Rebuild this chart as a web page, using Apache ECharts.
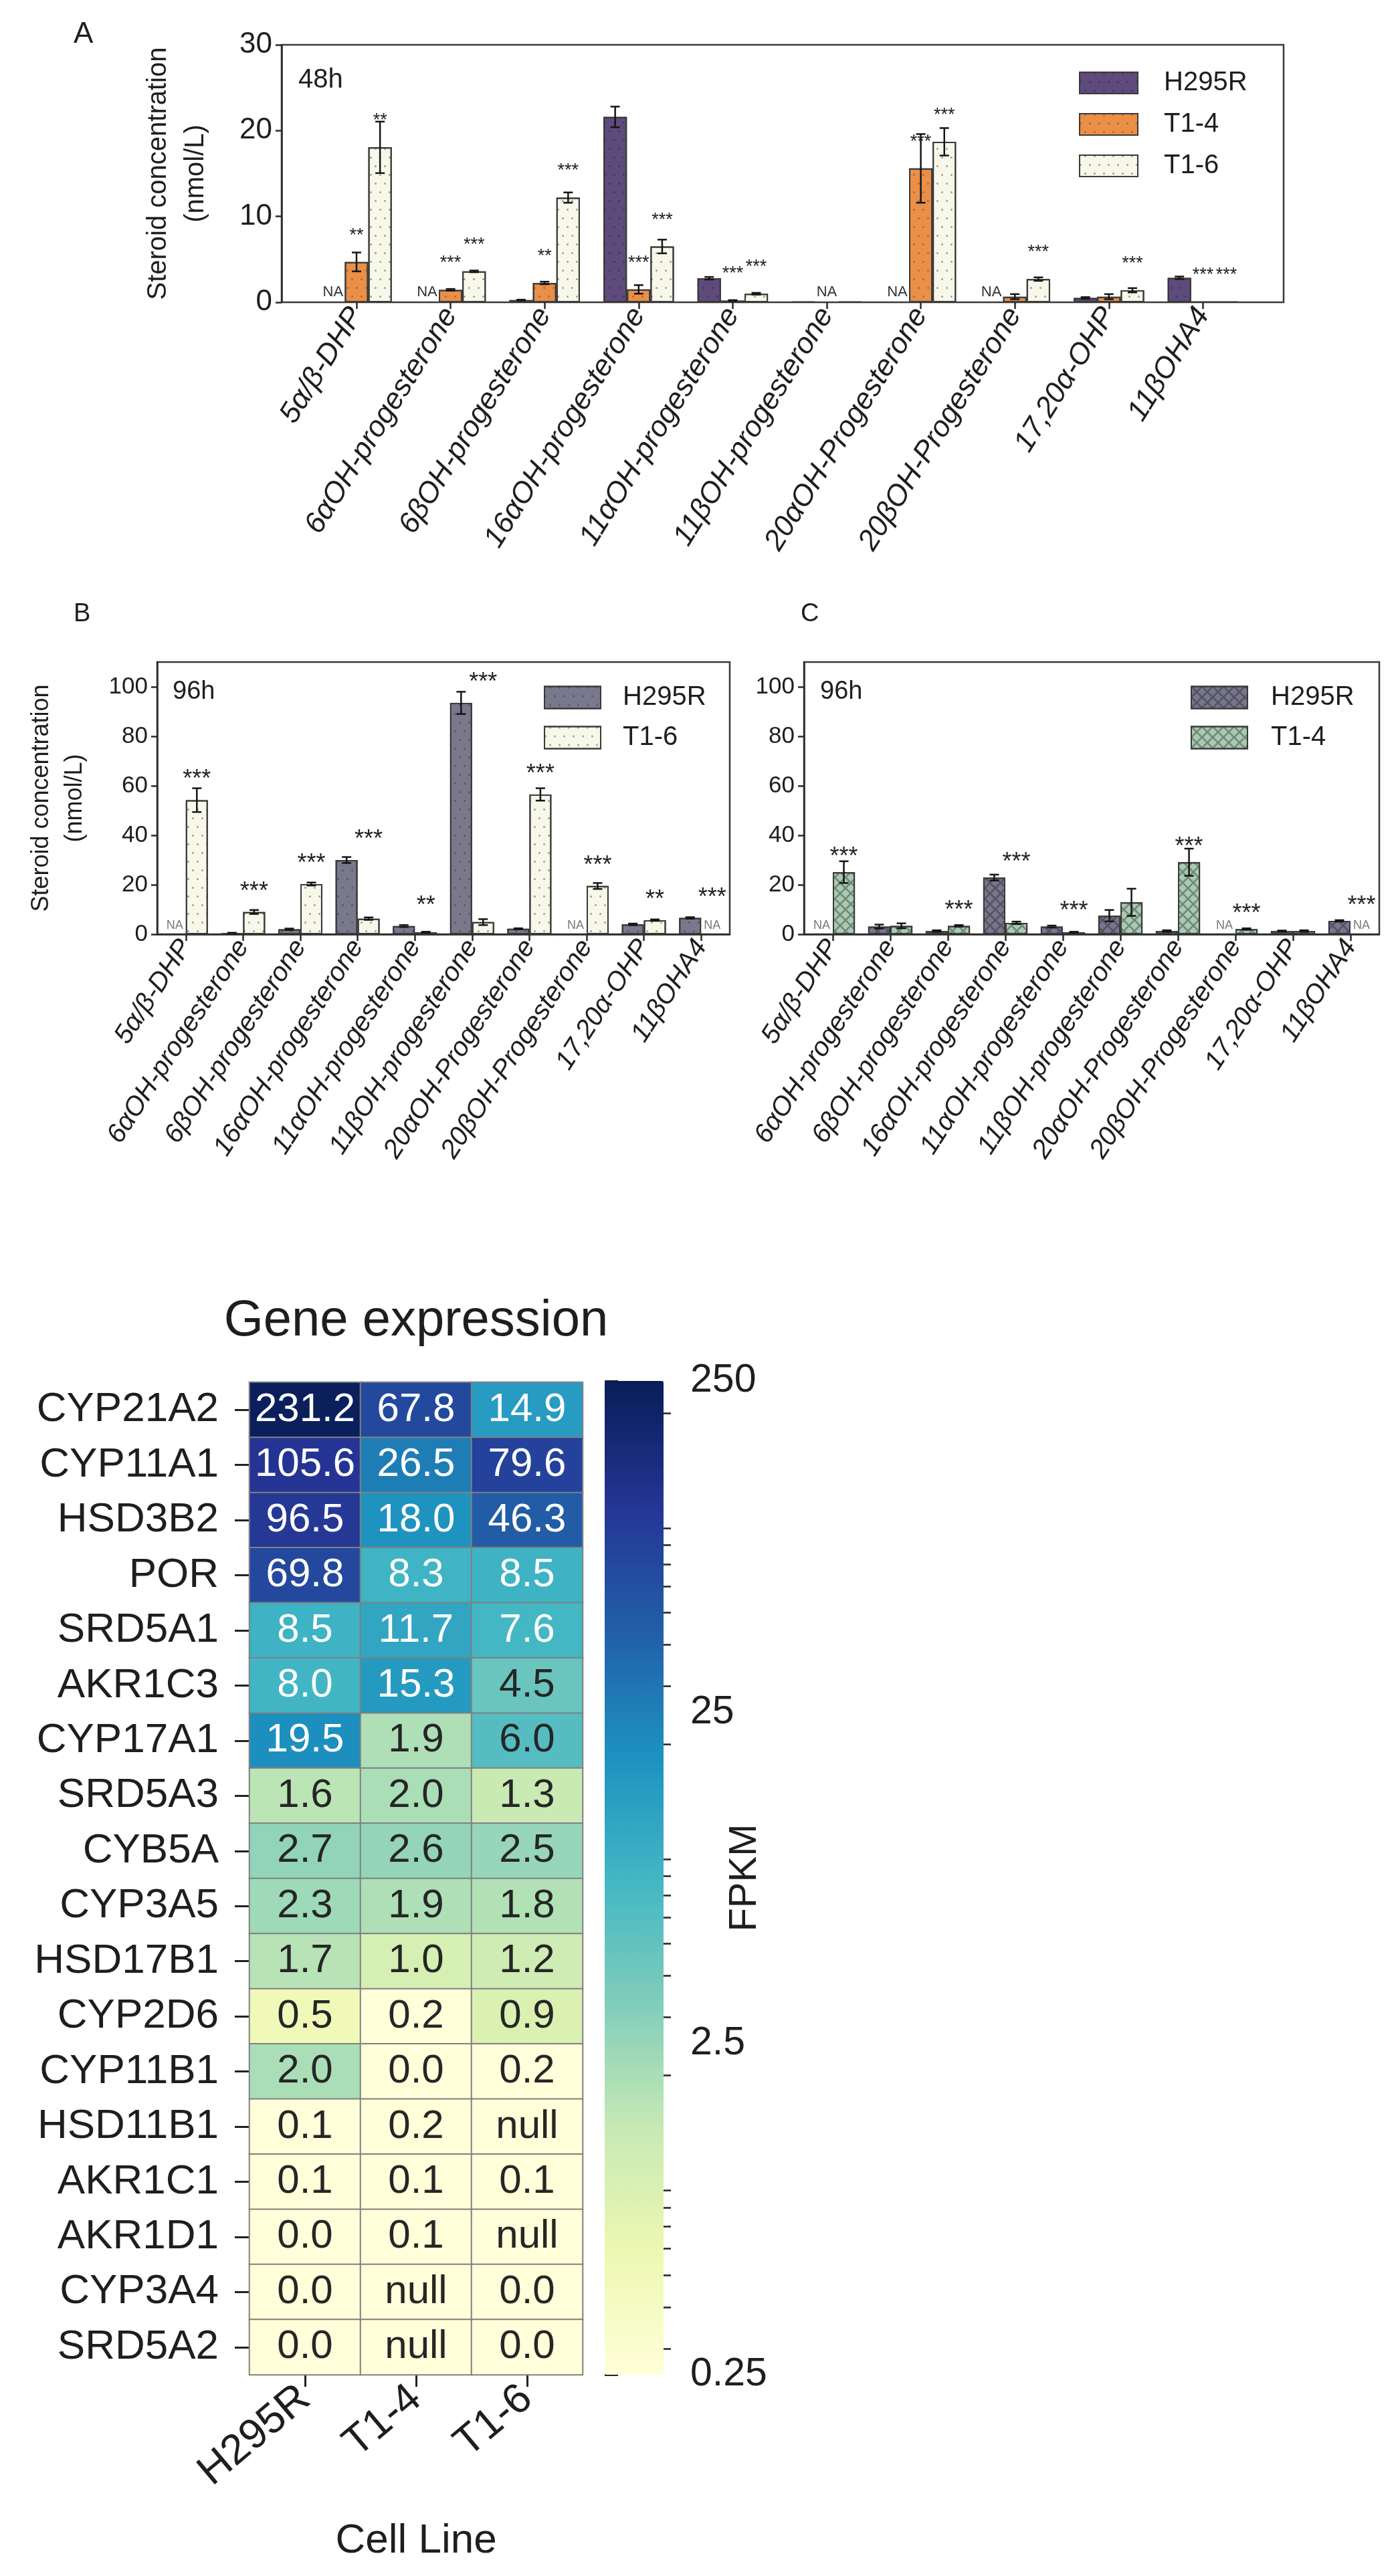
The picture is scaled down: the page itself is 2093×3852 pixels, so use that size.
<!DOCTYPE html>
<html>
<head>
<meta charset="utf-8">
<script src="https://cdn.jsdelivr.net/npm/echarts@6/dist/echarts.min.js"></script>
<style>html,body{margin:0;padding:0;background:#fff}#chart{width:2093px;height:3852px}</style>
</head>
<body>
<div id="chart"></div>
<script>
// ---------------- DATA ----------------
const steroids = ['5α/β-DHP','6αOH-progesterone','6βOH-progesterone','16αOH-progesterone','11αOH-progesterone','11βOH-progesterone','20αOH-Progesterone','20βOH-Progesterone','17,20α-OHP','11βOHA4'];

// Panel A – 48h (nmol/L), null = NA
const a_H295R    = [null, null, 0.25, 21.6, 2.8, 0.05, null, null, 0.5, 2.85];
const a_H295R_sd = [null, null, 0.05, 1.2, 0.15, 0, null, null, 0.1, 0.15];
const a_T14      = [4.7, 1.45, 2.25, 1.5, 0.2, null, 15.6, 0.65, 0.65, 0.05];
const a_T14_sd   = [1.1, 0.1, 0.15, 0.5, 0.05, null, 4.0, 0.3, 0.3, 0];
const a_T16      = [18.05, 3.6, 12.2, 6.5, 1.0, 0.05, 18.7, 2.7, 1.4, 0.05];
const a_T16_sd   = [3.0, 0.1, 0.6, 0.8, 0.1, 0, 1.6, 0.2, 0.25, 0];
const a_T14_sig  = ['**','***','**','***','***','','***','','','***'];
const a_T16_sig  = ['**','***','***','***','***','','***','***','***','***'];
const a_yTicks   = [0, 10, 20, 30];

// Panel B – 96h H295R vs T1-6
const b_H295R    = [null, 0.5, 2.0, 30.0, 3.3, 93.5, 2.2, null, 4.0, 6.6];
const b_H295R_sd = [null, 0.1, 0.3, 1.2, 0.4, 4.5, 0.2, null, 0.3, 0.3];
const b_T16      = [54.2, 9.0, 20.3, 6.3, 0.8, 4.9, 56.5, 19.5, 5.7, null];
const b_T16_sd   = [4.8, 0.8, 0.6, 0.5, 0.2, 1.2, 2.5, 1.2, 0.3, null];
const b_sig      = ['***','***','***','***','**','***','***','***','**','***'];

// Panel C – 96h H295R vs T1-4
const c_H295R    = [null, 3.1, 1.3, 22.9, 3.1, 7.5, 1.3, null, 1.3, 5.4];
const c_H295R_sd = [null, 0.8, 0.3, 1.2, 0.4, 2.3, 0.3, null, 0.2, 0.3];
const c_T14      = [25.1, 3.4, 3.4, 4.6, 0.8, 12.9, 29.1, 2.1, 1.3, null];
const c_T14_sd   = [4.4, 1.0, 0.3, 0.5, 0.2, 5.5, 5.5, 0.3, 0.3, null];
const c_sig      = ['***','','***','***','***','','***','***','','***'];
const bc_yTicks  = [0, 20, 40, 60, 80, 100];

// Heatmap – gene expression (FPKM), null = "null"
const genes = ['CYP21A2','CYP11A1','HSD3B2','POR','SRD5A1','AKR1C3','CYP17A1','SRD5A3','CYB5A','CYP3A5','HSD17B1','CYP2D6','CYP11B1','HSD11B1','AKR1C1','AKR1D1','CYP3A4','SRD5A2'];
const cellLines = ['H295R','T1-4','T1-6'];
const fpkm_H295R = [231.2,105.6,96.5,69.8,8.5,8.0,19.5,1.6,2.7,2.3,1.7,0.5,2.0,0.1,0.1,0.0,0.0,0.0];
const fpkm_T14   = [67.8,26.5,18.0,8.3,11.7,15.3,1.9,2.0,2.6,1.9,1.0,0.2,0.0,0.2,0.1,0.1,null,null];
const fpkm_T16   = [14.9,79.6,46.3,8.5,7.6,4.5,6.0,1.3,2.5,1.8,1.2,0.9,0.2,null,0.1,null,0.0,0.0];

// Colorbar ticks (log scale)
const cbMajor = [0.25, 2.5, 25, 250];
const cbMajorLabels = ['0.25', '2.5', '25', '250'];
const cbMinor = [0.3,0.4,0.5,0.6,0.7,0.8,0.9,2,3,4,5,6,7,8,9,20,30,40,50,60,70,80,90,200];

// ---------------- STYLE ----------------
const FONT = '"Liberation Sans", Arial, Helvetica, sans-serif';
const TXT = '#1e1e1e';
const YlGnBu = ['#ffffd9','#edf8b1','#c7e9b4','#7fcdbb','#41b6c4','#1d91c0','#225ea8','#253494','#081d58'];
const lg = Math.log10;

const dotDecal = c => ({symbol:'circle', symbolSize:1, color:c, dashArrayX:[[3,11],[0,7,3,4]], dashArrayY:[3,10]});
const crossDecal = c => ({symbol:'path://M0 0L1.4 0L12 10.6L12 12L10.6 12L0 1.4ZM10.6 0L12 0L12 1.4L1.4 12L0 12L0 10.6Z',
  symbolSize:1, symbolKeepAspect:false, color:c, dashArrayX:[16,0], dashArrayY:[16,0]});

// ---------------- helpers ----------------
function slotX(api, i, slot, n, frac) {
  const band = api.size([1, 0])[0];
  return api.coord([i, 0])[0] + (slot - (n - 1) / 2) * band * frac;
}
function errorSeries(xi, yi, vals, sds, slot, n, frac) {
  const data = [];
  vals.forEach((v, i) => { if (v != null && sds[i] != null && sds[i] > 0) data.push([i, v, sds[i]]); });
  return {type:'custom', xAxisIndex:xi, yAxisIndex:yi, z:6, silent:true, data, encode:{x:0, y:1},
    renderItem(params, api) {
      const i = api.value(0), v = api.value(1), e = api.value(2);
      const x = slotX(api, i, slot, n, frac);
      const yt = api.coord([i, v + e])[1], yb = api.coord([i, Math.max(0, v - e)])[1];
      const cw = 7, st = {stroke:'#151515', lineWidth:2.5};
      return {type:'group', children:[
        {type:'line', shape:{x1:x, y1:yt, x2:x, y2:yb}, style:st},
        {type:'line', shape:{x1:x-cw, y1:yt, x2:x+cw, y2:yt}, style:st},
        {type:'line', shape:{x1:x-cw, y1:yb, x2:x+cw, y2:yb}, style:st}
      ]};
    }};
}
function starSeries(xi, yi, anchors, sigs, slot, n, frac, fs, dist) {
  const data = [];
  anchors.forEach((a, i) => { if (a != null && sigs[i]) data.push([i, a]); });
  return {type:'custom', xAxisIndex:xi, yAxisIndex:yi, z:7, silent:true, data, encode:{x:0, y:1},
    renderItem(params, api) {
      const i = api.value(0);
      const x = slotX(api, i, slot, n, frac);
      const y = api.coord([i, api.value(1)])[1] - dist;
      return {type:'text', x, y, style:{text:sigs[i], fontSize:fs, fontFamily:FONT, fill:'#222', align:'center', verticalAlign:'bottom'}};
    }};
}
function naSeries(xi, yi, vals, slot, n, frac, fs, color) {
  const data = [];
  vals.forEach((v, i) => { if (v == null) data.push([i, 0]); });
  return {type:'custom', xAxisIndex:xi, yAxisIndex:yi, z:7, silent:true, data, encode:{x:0, y:1},
    renderItem(params, api) {
      const i = api.value(0);
      const x = slotX(api, i, slot, n, frac);
      const y = api.coord([i, 0])[1] - 4;
      return {type:'text', x, y, style:{text:'NA', fontSize:fs, fontFamily:FONT, fill:color, align:'center', verticalAlign:'bottom'}};
    }};
}
const groupMax = (p, q) => p.map((v, i) => {
  const xs = [v, q[i]].filter(t => t != null); return xs.length ? Math.max(...xs) : null; });

// ---------------- layout ----------------
const A = {left:421, top:67, width:1498, height:385};
const A_band = 140.6;
const A_inner = {left:533 - A_band/2, top:67, width:A_band*10, height:385};
const Bg = {left:235, top:990, width:856, height:407};
const Cg = {left:1202, top:990, width:860, height:407};
const Hg = {left:373, top:2067, width:498, height:1484};
const CBg = {left:904, top:2065, width:88, height:1486};

const axisLineStyle = {color:'#2a2a2a', width:2.5};
const catAxis = (gi, fs, rot) => ({gridIndex:gi, type:'category', data:steroids, boundaryGap:true,
  axisLine:{show:true, lineStyle:axisLineStyle}, axisTick:{show:true, alignWithLabel:true, length:10, lineStyle:axisLineStyle},
  axisLabel:{interval:0, rotate:rot, fontSize:fs, fontStyle:'italic', fontFamily:FONT, color:TXT, margin:12},
  splitLine:{show:false}});
const valAxis = (gi, max, ticks, fs, extra) => Object.assign({gridIndex:gi, type:'value', min:0, max,
  axisLine:{show:true, lineStyle:axisLineStyle}, axisTick:{show:true, length:9, lineStyle:axisLineStyle, customValues:ticks},
  axisLabel:{fontSize:fs, fontFamily:FONT, color:TXT, margin:14, customValues:ticks}, splitLine:{show:false}}, extra || {});

const fpkmCols = [fpkm_H295R, fpkm_T14, fpkm_T16];
const heatData = [];
fpkmCols.forEach((col, x) => col.forEach((v, y) => {
  const cv = lg(Math.max(v == null ? cbMajor[0] : v, cbMajor[0]));
  heatData.push({value:[x, y, cv], label:{color:(v != null && v > 7) ? '#ffffff' : '#262626'}});
}));

const barBase = {type:'bar', barGap:'0%'};
const series = [
  // Panel A bars
  Object.assign({}, barBase, {name:'a|H295R', xAxisIndex:1, yAxisIndex:1, data:a_H295R, barCategoryGap:'25%',
    itemStyle:{color:'#5e4b7c', borderColor:'#3a3a3a', borderWidth:2, decal:dotDecal('rgba(0,0,0,0.28)')}}),
  Object.assign({}, barBase, {name:'a|T1-4', xAxisIndex:1, yAxisIndex:1, data:a_T14, barCategoryGap:'25%',
    itemStyle:{color:'#e98f47', borderColor:'#3a3a3a', borderWidth:2, decal:dotDecal('rgba(80,35,0,0.35)')}}),
  Object.assign({}, barBase, {name:'a|T1-6', xAxisIndex:1, yAxisIndex:1, data:a_T16, barCategoryGap:'25%',
    itemStyle:{color:'#f8f8ea', borderColor:'#3a3a3a', borderWidth:2, decal:dotDecal('rgba(70,70,50,0.5)')}}),
  // Panel B bars
  Object.assign({}, barBase, {name:'b|H295R', xAxisIndex:2, yAxisIndex:2, data:b_H295R, barCategoryGap:'23%',
    itemStyle:{color:'#7a788d', borderColor:'#3a3a3a', borderWidth:2, decal:dotDecal('rgba(0,0,0,0.28)')}}),
  Object.assign({}, barBase, {name:'b|T1-6', xAxisIndex:2, yAxisIndex:2, data:b_T16, barCategoryGap:'23%',
    itemStyle:{color:'#f8f8ea', borderColor:'#3a3a3a', borderWidth:2, decal:dotDecal('rgba(70,70,50,0.5)')}}),
  // Panel C bars
  Object.assign({}, barBase, {name:'c|H295R', xAxisIndex:3, yAxisIndex:3, data:c_H295R, barCategoryGap:'23%',
    itemStyle:{color:'#78768b', borderColor:'#3a3a3a', borderWidth:2, decal:crossDecal('rgba(40,40,50,0.45)')}}),
  Object.assign({}, barBase, {name:'c|T1-4', xAxisIndex:3, yAxisIndex:3, data:c_T14, barCategoryGap:'23%',
    itemStyle:{color:'#aac9b2', borderColor:'#3a3a3a', borderWidth:2, decal:crossDecal('rgba(40,60,45,0.45)')}}),

  // error bars
  errorSeries(1, 1, a_H295R, a_H295R_sd, 0, 3, 0.25),
  errorSeries(1, 1, a_T14, a_T14_sd, 1, 3, 0.25),
  errorSeries(1, 1, a_T16, a_T16_sd, 2, 3, 0.25),
  errorSeries(2, 2, b_H295R, b_H295R_sd, 0, 2, 0.385),
  errorSeries(2, 2, b_T16, b_T16_sd, 1, 2, 0.385),
  errorSeries(3, 3, c_H295R, c_H295R_sd, 0, 2, 0.385),
  errorSeries(3, 3, c_T14, c_T14_sd, 1, 2, 0.385),

  // significance stars
  starSeries(1, 1, a_T14, a_T14_sig, 1, 3, 0.25, 27, 26),
  starSeries(1, 1, a_T16, a_T16_sig, 2, 3, 0.25, 27, 26),
  starSeries(2, 2, groupMax(b_H295R, b_T16), b_sig, 1, 2, 0.385, 36, 12),
  starSeries(3, 3, groupMax(c_H295R, c_T14), c_sig, 1, 2, 0.385, 36, 4),

  // NA labels
  naSeries(1, 1, a_H295R, 0, 3, 0.25, 22, '#333'),
  naSeries(1, 1, a_T14, 1, 3, 0.25, 22, '#333'),
  naSeries(2, 2, b_H295R, 0, 2, 0.385, 18, '#777'),
  naSeries(2, 2, b_T16, 1, 2, 0.385, 18, '#777'),
  naSeries(3, 3, c_H295R, 0, 2, 0.385, 18, '#777'),
  naSeries(3, 3, c_T14, 1, 2, 0.385, 18, '#777'),

  // heatmap
  {type:'heatmap', name:'expr', xAxisIndex:4, yAxisIndex:4, data:heatData,
    itemStyle:{borderColor:'#808080', borderWidth:2},
    label:{show:true, fontSize:60, fontFamily:FONT,
      formatter:p => { const v = fpkmCols[p.value[0]][p.value[1]]; return v == null ? 'null' : v.toFixed(1); }},
    emphasis:{disabled:true}}
];
const heatIndex = series.length - 1;

const legendBase = {orient:'vertical', selectedMode:false, padding:0, icon:'rect',
  formatter:n => n.split('|')[1]};

const option = {
  backgroundColor:'#ffffff',
  animation:false,
  textStyle:{fontFamily:FONT},
  grid:[
    Object.assign({show:true, borderColor:'#3a3a3a', borderWidth:2.5, backgroundColor:'transparent', containLabel:false}, A),
    Object.assign({show:false, containLabel:false}, A_inner),
    Object.assign({show:true, borderColor:'#3a3a3a', borderWidth:2.5, backgroundColor:'transparent', containLabel:false}, Bg),
    Object.assign({show:true, borderColor:'#3a3a3a', borderWidth:2.5, backgroundColor:'transparent', containLabel:false}, Cg),
    Object.assign({show:false, containLabel:false}, Hg),
    Object.assign({show:false, containLabel:false}, CBg)
  ],
  xAxis:[
    {gridIndex:0, type:'value', min:0, max:1, show:false},
    Object.assign(catAxis(1, 44, 58), {axisLine:{show:false}}),
    catAxis(2, 40, 57),
    catAxis(3, 40, 57),
    {gridIndex:4, type:'category', data:cellLines, position:'bottom',
      axisLine:{show:false}, axisTick:{show:true, alignWithLabel:true, length:18, lineStyle:{color:'#222', width:3}},
      axisLabel:{rotate:40, fontSize:63, fontFamily:FONT, color:TXT, margin:28},
      name:'Cell Line', nameLocation:'middle', nameGap:218, nameTextStyle:{fontSize:62, fontFamily:FONT, color:TXT}},
    {gridIndex:5, type:'value', min:0, max:1, show:false}
  ],
  yAxis:[
    valAxis(0, 30, a_yTicks, 44, {name:'Steroid concentration\n(nmol/L)', nameLocation:'middle', nameRotate:90, nameGap:100,
      nameTextStyle:{fontSize:40, lineHeight:56, fontFamily:FONT, color:TXT}}),
    {gridIndex:1, type:'value', min:0, max:30, show:false},
    valAxis(2, 110, bc_yTicks, 35, {name:'Steroid concentration\n(nmol/L)', nameLocation:'middle', nameRotate:90, nameGap:98,
      nameTextStyle:{fontSize:36, lineHeight:50, fontFamily:FONT, color:TXT}}),
    valAxis(3, 110, bc_yTicks, 35),
    {gridIndex:4, type:'category', data:genes, inverse:true,
      axisLine:{show:false}, axisTick:{show:true, alignWithLabel:true, length:22, lineStyle:{color:'#222', width:3}},
      axisLabel:{fontSize:62, fontFamily:FONT, color:TXT, margin:46}},
    {gridIndex:5, type:'value', position:'right', min:lg(cbMajor[0]), max:lg(cbMajor[cbMajor.length-1]),
      axisLine:{show:false}, splitLine:{show:false},
      axisTick:{show:true, length:20, customValues:cbMajor.map(lg), lineStyle:{color:'#222', width:3}},
      axisLabel:{show:true, customValues:cbMajor.map(lg), fontSize:59, fontFamily:FONT, color:TXT, margin:40,
        formatter:v => { const k = cbMajor.findIndex(m => Math.abs(lg(m) - v) < 1e-6); return k >= 0 ? cbMajorLabels[k] : ''; }},
      name:'FPKM', nameLocation:'middle', nameRotate:90, nameGap:93, nameMoveOverlap:false,
      nameTextStyle:{fontSize:58, fontFamily:FONT, color:TXT}},
    {gridIndex:5, type:'value', position:'right', min:lg(cbMajor[0]), max:lg(cbMajor[cbMajor.length-1]),
      axisLine:{show:false}, splitLine:{show:false},
      axisTick:{show:true, length:11, customValues:cbMinor.map(lg), lineStyle:{color:'#222', width:2.5}},
      axisLabel:{show:false}}
  ],
  legend:[
    Object.assign({}, legendBase, {data:['a|H295R','a|T1-4','a|T1-6'], left:1613, top:104, itemWidth:87, itemHeight:32, itemGap:22,
      textStyle:{fontSize:40, fontFamily:FONT, color:TXT, padding:[0,0,0,34]}}),
    Object.assign({}, legendBase, {data:['b|H295R','b|T1-6'], left:813, top:1023, itemWidth:84, itemHeight:33, itemGap:20,
      textStyle:{fontSize:40, fontFamily:FONT, color:TXT, padding:[0,0,0,28]}}),
    Object.assign({}, legendBase, {data:['c|H295R','c|T1-4'], left:1780, top:1023, itemWidth:84, itemHeight:33, itemGap:20,
      textStyle:{fontSize:40, fontFamily:FONT, color:TXT, padding:[0,0,0,30]}})
  ],
  visualMap:{type:'continuous', seriesIndex:heatIndex, dimension:2, min:lg(cbMajor[0]), max:lg(cbMajor[cbMajor.length-1]),
    inRange:{color:YlGnBu}, left:CBg.left, top:CBg.top, itemWidth:CBg.width, itemHeight:CBg.height, padding:0,
    calculable:false, hoverLink:false, orient:'vertical'},
  graphic:[
    {type:'text', x:110, y:30, style:{text:'A', fontSize:44, fontFamily:FONT, fill:TXT}},
    {type:'text', x:446, y:100, style:{text:'48h', fontSize:40, fontFamily:FONT, fill:TXT}},
    {type:'text', x:110, y:900, style:{text:'B', fontSize:38, fontFamily:FONT, fill:TXT}},
    {type:'text', x:258, y:1016, style:{text:'96h', fontSize:38, fontFamily:FONT, fill:TXT}},
    {type:'text', x:1197, y:900, style:{text:'C', fontSize:38, fontFamily:FONT, fill:TXT}},
    {type:'text', x:1226, y:1016, style:{text:'96h', fontSize:38, fontFamily:FONT, fill:TXT}},
    {type:'text', x:622, y:1938, style:{text:'Gene expression', fontSize:76, fontFamily:FONT, fill:TXT, align:'center'}}
  ],
  series
};

const chart = echarts.init(document.getElementById('chart'), null, {renderer:'canvas', width:2093, height:3852});
chart.setOption(option);
</script>
</body>
</html>
